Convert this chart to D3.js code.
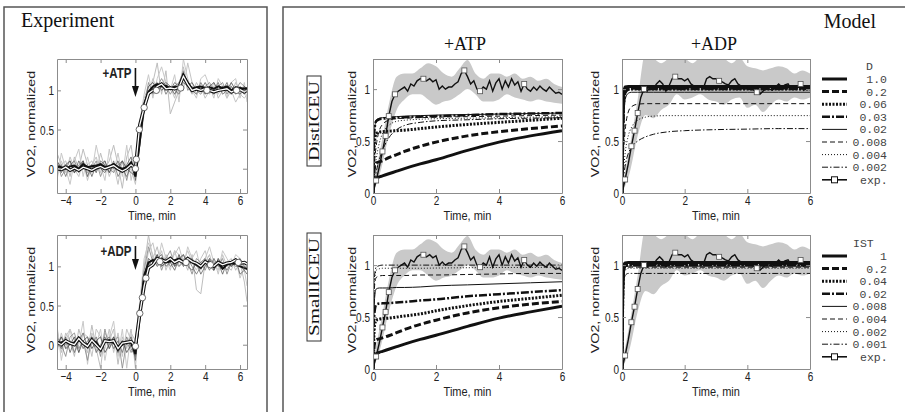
<!DOCTYPE html>
<html>
<head>
<meta charset="utf-8">
<script src="https://cdn.jsdelivr.net/npm/d3@7"></script>
<style>
body { margin: 0; background: #fff; }
svg { display: block; }
.serif { font-family: "Liberation Serif", "Times New Roman", serif; fill: #111; }
.sans { font-family: "Liberation Sans", Arial, sans-serif; fill: #222; }
.mono { font-family: "Liberation Mono", "Courier New", monospace; fill: #444; font-size: 11.5px; }
</style>
</head>
<body>
<svg id="fig" width="905" height="412"></svg>
<script>
// ---- experiment data ----
var expTime = [-4.5,-4.25,-4,-3.75,-3.5,-3.25,-3,-2.75,-2.5,-2.25,-2,-1.75,-1.5,-1.25,-1,-0.75,-0.5,-0.25,
  0,0.25,0.5,0.75,1,1.25,1.5,1.75,2,2.25,2.5,2.75,3,3.25,3.5,3.75,4,4.25,4.5,4.75,5,5.25,5.5,5.75,6,6.25,6.4];

var atpLight1 = [0.2,0.05,0.1,-0.1,0.15,0.0,0.25,0.05,0.1,-0.05, 0.2,0.0,0.1,0.3,0.05,-0.25,0.15,0.3,-0.1,0.45, 0.9,1.05,1.1,1.35,0.95,1.25,0.7,0.85,1.0,1.3, 1.05,0.95,1.1,1.0,1.05,0.95,1.1,0.9,1.0,1.05, 0.95,1.1,1.0,1.05,1.0];
var atpLight2 = [-0.1,0.1,-0.05,0.15,0.0,-0.1,0.1,-0.15,0.05,0.15, -0.05,0.1,-0.1,0.05,-0.2,0.1,-0.05,0.0,-0.2,0.3, 0.7,0.95,1.15,1.0,1.1,1.0,1.05,0.9,1.1,1.0, 1.35,1.1,0.95,1.05,0.9,1.0,1.05,0.95,1.05,0.9, 1.0,0.85,0.95,0.9,0.95];
var atpLight3 = [-0.15,0.2,0.0,-0.2,0.1,0.25,-0.1,0.15,-0.05,0.3, 0.05,-0.15,0.25,-0.05,0.2,-0.1,0.3,-0.15,0.1,0.6, 0.95,1.2,0.9,1.15,1.3,1.1,1.0,1.2,0.85,1.4, 1.15,1.0,0.9,1.15,1.2,1.05,0.9,1.15,1.05,0.9, 1.1,1.15,0.9,1.1,0.85];
var atpMid = [0.1,-0.1,0.0,0.1,-0.05,0.05,0.1,-0.05,0.0,0.1, -0.1,0.05,0.0,-0.05,0.05,0.1,-0.15,0.1,0.0,0.3, 0.8,1.1,0.95,1.05,1.15,1.05,0.95,1.05,1.1,1.25, 1.0,1.05,1.0,0.95,1.05,1.1,1.0,1.05,1.1,0.95, 1.05,1.0,1.1,1.05,0.98];
var atpDark1 = [0.05,-0.05,0.05,0.0,-0.05,0.1,0.0,0.05,-0.1,0.05, 0.0,-0.05,0.05,0.0,0.1,-0.05,0.05,0.15,-0.15,0.4, 0.85,1.0,1.05,1.1,1.0,1.05,1.0,1.1,1.05,1.2, 1.1,1.0,1.05,1.0,1.1,1.0,0.95,1.05,1.0,1.1, 0.95,1.05,1.0,0.95,1.0];
var atpDark2 = [0.0,0.05,-0.1,0.05,0.1,-0.05,0.05,0.0,0.05,-0.05, 0.1,0.05,-0.05,0.1,-0.1,0.0,-0.1,0.05,-0.05,0.35, 0.75,0.95,1.0,1.05,1.1,0.95,1.05,1.0,0.95,1.1, 1.05,1.0,0.95,1.1,1.0,1.05,1.0,1.1,0.95,1.0, 1.05,0.95,1.05,1.0,1.02];
var atpDark3 = [0.1,0.0,0.05,0.1,-0.05,0.0,0.1,-0.1,0.05,0.0, 0.05,0.1,-0.05,0.05,0.0,0.1,0.0,-0.05,-0.1,0.3, 0.8,1.05,1.1,1.0,1.05,1.1,1.05,0.95,1.05,1.15, 1.05,1.1,1.0,1.05,0.95,1.05,1.1,1.0,1.05,1.0, 1.1,1.0,0.95,1.05,1.0];
var atpMean = [0.03,0.02,0.0,0.03,0.04,0.0,0.06,0.02,0.03,0.04, 0.06,0.02,0.03,0.06,0.02,0.0,0.02,0.08,-0.1,0.35, 0.82,0.98,1.05,1.08,1.05,1.06,1.02,1.05,1.04,1.2, 1.1,1.02,1.04,1.05,1.03,1.04,1.02,1.05,1.03,1.05, 1.0,1.04,1.03,1.02,1.03];
var atpWhite = [0.0,-0.01,0.02,-0.02,0.01,-0.02,0.02,0.0,-0.02,0.01, 0.03,0.0,0.02,0.04,0.0,-0.03,0.0,0.05,0.0,0.56, 0.78,0.96,1.0,1.05,1.08,1.02,1.03,1.02,1.04,1.18, 1.08,1.0,1.02,1.0,1.02,1.0,0.98,1.0,1.01,1.02, 0.98,1.0,1.01,0.98,1.0];
var atpMarkT = [0, 0.05, 0.22, 0.5, 1.2, 2.6, 4.1, 5.8];
var atpMarkV = [0.0, 0.12, 0.5, 0.78, 1.0, 1.03, 1.0, 1.0];

var adpLight1 = [0.2,-0.1,0.15,0.05,-0.15,0.2,0.0,-0.1,0.25,-0.05, -0.3,0.15,0.05,0.2,-0.25,0.1,-0.05,0.2,-0.3,0.5, 1.0,1.4,1.1,1.25,1.0,1.15,1.05,1.2,1.0,1.1, 0.95,1.15,0.7,0.65,1.05,1.15,0.95,1.1,1.0,1.05, 1.1,0.95,1.05,0.8,0.55];
var adpLight2 = [-0.1,0.15,-0.05,0.2,0.05,-0.1,0.15,0.1,-0.15,0.2, 0.1,-0.05,0.2,-0.1,0.15,-0.15,0.2,0.05,-0.15,0.3, 0.85,1.2,1.3,1.05,1.2,0.95,1.1,1.15,1.25,1.05, 1.2,1.05,0.95,1.1,1.2,1.0,1.1,0.9,1.15,1.0, 0.95,1.1,0.85,1.0,0.95];
var adpLight3 = [0.25,-0.2,0.1,0.2,-0.1,0.0,0.3,-0.25,0.15,0.0, 0.2,-0.2,0.1,0.3,-0.15,0.2,-0.3,0.15,0.05,0.55, 1.1,1.3,1.15,1.0,1.3,1.1,0.95,1.2,1.15,1.0, 1.25,1.1,1.2,0.95,1.1,1.25,1.05,0.95,1.2,1.1, 1.0,1.15,1.1,0.95,0.75];
var adpMid = [0.1,0.0,-0.15,0.1,0.15,-0.05,0.05,-0.2,0.1,0.05, -0.15,0.2,-0.05,0.05,0.1,-0.3,0.05,-0.1,0.0,0.45, 0.95,1.25,1.05,1.15,0.95,1.1,1.2,1.0,1.05,1.15, 1.05,0.9,1.1,1.05,0.95,1.1,1.05,1.0,1.1,0.9, 1.05,1.1,1.0,1.05,1.0];
var adpDark1 = [0.05,-0.05,0.1,-0.1,0.05,0.1,-0.05,0.05,0.1,-0.1, 0.0,0.1,-0.05,0.1,-0.1,0.05,0.0,0.1,-0.2,0.4, 0.9,1.05,1.0,1.1,1.15,1.0,1.05,0.95,1.1,1.15, 1.0,0.95,1.05,0.9,1.0,1.1,0.95,1.05,0.9,1.05, 1.0,1.1,0.9,0.95,0.9];
var adpDark2 = [-0.05,0.1,0.0,0.05,-0.1,0.05,0.15,-0.05,0.0,0.1, -0.1,0.05,0.1,-0.05,0.05,-0.1,0.1,-0.05,-0.15,0.35, 0.8,1.0,1.1,1.0,1.05,1.1,1.0,1.05,1.0,1.05, 1.1,1.0,0.9,1.0,1.05,0.95,1.1,1.0,1.05,0.95, 1.05,1.0,1.0,0.95,1.0];
var adpDark3 = [0.0,0.1,-0.05,0.0,0.1,-0.1,0.05,0.1,-0.05,0.05, 0.1,-0.1,0.0,0.1,-0.05,0.05,-0.1,0.0,-0.1,0.3, 0.85,1.1,1.05,1.15,1.0,1.05,1.1,1.0,1.15,1.0, 1.05,1.1,1.0,1.05,1.1,1.0,0.95,1.1,1.0,1.05, 1.0,1.05,1.1,1.0,0.95];
var adpMean = [0.02,0.03,0.04,0.01,0.03,0.06,0.02,0.0,0.05,0.03, -0.05,0.04,0.06,0.02,-0.02,0.0,0.04,0.02,-0.12,0.4, 0.88,1.05,1.08,1.06,1.1,1.05,1.06,1.08,1.1,1.06, 1.08,1.05,1.02,0.98,1.05,1.06,1.0,1.04,0.97,1.02, 1.04,1.03,1.0,0.98,0.97];
var adpWhite = [0.03,0.0,0.05,0.02,0.0,0.08,0.02,-0.02,0.06,0.0, -0.06,0.05,0.04,0.05,-0.05,0.02,0.03,0.04,-0.02,0.4, 0.75,0.98,1.02,1.1,1.08,1.06,1.1,1.05,1.08,1.05, 1.1,1.06,1.04,1.0,1.06,1.02,1.0,1.05,1.02,1.04, 1.05,1.08,1.04,1.05,1.03];
var adpMarkT = [0, 0.25, 0.4, 0.6, 1.4, 2.9, 4.3, 5.9];
var adpMarkV = [-0.02, 0.4, 0.6, 0.85, 1.06, 1.05, 1.02, 1.05];

// ---- model data ----
var modelT = [0,0.02,0.05,0.1,0.2,0.3,0.5,0.75,1,1.5,2,3,4,5,6];

var distLabels = ["1.0","0.2","0.06","0.03","0.02","0.008","0.004","0.002"];
var atpDist = [
  [0,0.08,0.12,0.14,0.155,0.165,0.185,0.21,0.235,0.28,0.32,0.41,0.49,0.55,0.6],
  [0,0.15,0.25,0.29,0.3,0.31,0.34,0.37,0.4,0.45,0.49,0.55,0.59,0.62,0.645],
  [0,0.3,0.5,0.57,0.585,0.59,0.595,0.6,0.605,0.62,0.635,0.66,0.68,0.7,0.72],
  [0,0.4,0.62,0.69,0.71,0.715,0.72,0.725,0.73,0.735,0.74,0.75,0.76,0.765,0.77],
  [0,0.35,0.6,0.7,0.72,0.725,0.73,0.735,0.74,0.745,0.75,0.755,0.76,0.765,0.77],
  [0,0.15,0.3,0.45,0.6,0.66,0.7,0.715,0.72,0.725,0.73,0.735,0.74,0.745,0.75],
  [0,0.1,0.2,0.32,0.48,0.57,0.65,0.69,0.7,0.71,0.715,0.72,0.725,0.73,0.735],
  [0,0.05,0.12,0.2,0.32,0.41,0.53,0.61,0.65,0.68,0.695,0.705,0.715,0.72,0.725]
];
var adpDist = [
  [0,0.6,0.95,1.02,1.025,1.025,1.025,1.025,1.025,1.025,1.025,1.025,1.025,1.025,1.025],
  [0,0.5,0.9,1.0,1.01,1.01,1.01,1.01,1.01,1.01,1.01,1.01,1.01,1.01,1.01],
  [0,0.45,0.85,0.98,1.0,1.0,1.0,1.0,1.0,1.0,1.0,1.0,1.0,1.0,1.0],
  [0,0.4,0.8,0.96,0.995,1.0,1.0,1.0,1.0,1.0,1.0,1.0,1.0,1.0,1.0],
  [0,0.35,0.7,0.9,0.96,0.97,0.97,0.97,0.97,0.97,0.97,0.97,0.97,0.97,0.97],
  [0,0.2,0.4,0.6,0.78,0.83,0.855,0.86,0.86,0.86,0.86,0.86,0.86,0.86,0.86],
  [0,0.1,0.22,0.38,0.55,0.63,0.7,0.73,0.74,0.745,0.745,0.745,0.745,0.745,0.745],
  [0,0.07,0.15,0.26,0.38,0.44,0.5,0.54,0.565,0.59,0.6,0.61,0.615,0.62,0.62]
];

var istLabels = ["1","0.2","0.04","0.02","0.008","0.004","0.002","0.001"];
var atpSmall = [
  [0,0.08,0.12,0.145,0.16,0.17,0.19,0.215,0.24,0.285,0.325,0.41,0.49,0.55,0.605],
  [0,0.15,0.25,0.28,0.29,0.3,0.32,0.35,0.38,0.43,0.47,0.54,0.59,0.625,0.65],
  [0,0.25,0.42,0.47,0.48,0.485,0.49,0.5,0.51,0.53,0.56,0.61,0.65,0.68,0.71],
  [0,0.35,0.55,0.62,0.63,0.632,0.635,0.64,0.645,0.66,0.67,0.7,0.72,0.74,0.76],
  [0,0.4,0.68,0.77,0.78,0.78,0.78,0.785,0.785,0.79,0.8,0.81,0.82,0.83,0.84],
  [0,0.45,0.8,0.88,0.895,0.9,0.9,0.9,0.9,0.905,0.905,0.91,0.915,0.92,0.92],
  [0,0.5,0.85,0.95,0.965,0.97,0.97,0.97,0.97,0.97,0.972,0.975,0.977,0.978,0.98],
  [0,0.55,0.9,0.98,0.995,1.0,1.0,1.0,1.0,1.0,1.0,1.0,1.0,1.0,1.0]
];
var adpSmall = [
  [0,0.7,0.98,1.02,1.025,1.025,1.025,1.025,1.025,1.025,1.025,1.025,1.025,1.025,1.025],
  [0,0.65,0.96,1.01,1.015,1.015,1.015,1.015,1.015,1.015,1.015,1.015,1.015,1.015,1.015],
  [0,0.6,0.94,1.0,1.005,1.005,1.005,1.005,1.005,1.005,1.005,1.005,1.005,1.005,1.005],
  [0,0.6,0.93,0.99,1.0,1.0,1.0,1.0,1.0,1.0,1.0,1.0,1.0,1.0,1.0],
  [0,0.55,0.9,0.98,0.99,0.99,0.99,0.99,0.99,0.99,0.99,0.99,0.99,0.99,0.99],
  [0,0.55,0.88,0.97,0.98,0.98,0.98,0.98,0.98,0.98,0.98,0.98,0.98,0.98,0.98],
  [0,0.5,0.85,0.95,0.97,0.97,0.97,0.97,0.97,0.97,0.97,0.97,0.97,0.97,0.97],
  [0,0.45,0.8,0.9,0.92,0.92,0.92,0.92,0.92,0.92,0.92,0.92,0.92,0.92,0.92]
];

// experimental curve shown in the model panels
var mExpT = [0,0.1,0.2,0.3,0.4,0.5,0.6,0.7,0.8,0.9,1,1.1,1.2,1.3,1.4,1.5,1.6,1.7,1.8,1.9,2,2.1,2.2,2.3,2.4,2.5,2.6,2.7,2.8,2.9,
  3,3.1,3.2,3.3,3.4,3.5,3.6,3.7,3.8,3.9,4,4.1,4.2,4.3,4.4,4.5,4.6,4.7,4.8,4.9,5,5.1,5.2,5.3,5.4,5.5,5.6,5.7,5.8,5.9,6];
var mExpAtp = [0,0.12,0.25,0.4,0.55,0.74,0.88,0.95,0.98,1.0, 1.02,0.98,1.05,1.03,1.08,1.1,1.1,1.08,1.1,1.07, 1.09,1.0,1.03,1.0,1.02,1.02,1.05,1.07,1.15,1.18,
  1.12,1.05,1.08,1.0,0.98,1.02,1.0,1.08,0.98,1.06, 1.1,1.0,1.08,1.02,1.1,1.04,1.07,0.98,1.05,1.0, 0.98,1.02,0.99,1.03,1.0,0.98,1.02,0.99,0.96,0.97,0.95];
var mExpAdp = [0,0.13,0.28,0.45,0.6,0.77,0.92,1.0,0.98,1.02, 1.0,1.05,1.08,1.05,0.98,1.03,1.1,1.12,1.1,1.1, 1.08,1.1,1.05,1.03,1.02,1.02,1.01,1.1,1.12,1.1,
  1.1,1.08,1.07,1.05,1.04,1.08,1.1,1.05,1.03,1.02, 1.02,1.0,0.99,0.97,0.95,0.98,1.01,1.0,0.99,1.02, 1.05,1.02,1.04,1.05,1.0,1.03,1.02,1.05,0.99,1.03,1.0];
var sqAtpT = [0.1,0.3,0.4,0.5,0.7,1.6,2.9,3.4,4.8];
var sqAdpT = [0.1,0.3,0.4,0.5,0.7,1.7,3.1,4.3,5.7];

var bandT = [0,0.25,0.5,0.75,1,1.25,1.5,1.75,2,2.25,2.5,2.75,3,3.25,3.5,3.75,4,4.25,4.5,4.75,5,5.25,5.5,5.75,6];
var bandAtpLow = [0,0.22,0.55,0.8,0.9,0.95,0.95,0.9,0.85,0.88,0.9,0.95,1.0,0.95,0.88,0.88,0.9,0.95,0.92,0.9,0.88,0.9,0.88,0.87,0.86];
var bandAtpHigh = [0.08,0.45,0.85,1.12,1.15,1.15,1.2,1.25,1.22,1.15,1.12,1.2,1.28,1.15,1.1,1.15,1.15,1.12,1.15,1.1,1.12,1.08,1.1,1.05,1.02];
var bandAdpLow = [0,0.2,0.55,0.75,0.72,0.8,0.85,0.95,0.9,0.92,0.95,0.9,0.88,0.85,0.9,0.92,0.82,0.85,0.78,0.85,0.9,0.88,0.92,0.9,0.92];
var bandAdpHigh = [0.05,0.45,0.9,1.35,1.3,1.25,1.3,1.35,1.3,1.25,1.3,1.28,1.35,1.3,1.25,1.3,1.22,1.2,1.18,1.2,1.22,1.2,1.15,1.18,1.15];

// line styles for the eight model curves (thick solid, dashed, dotted, dash-dot, then thin)
var curveStyles = [
  { w: 3, dash: null }, { w: 3, dash: "7,3" }, { w: 3, dash: "2,1.5" }, { w: 2.5, dash: "8,2,2,2" },
  { w: 1, dash: null }, { w: 1, dash: "5,3" }, { w: 1, dash: "1,2" }, { w: 1, dash: "6,2,1.5,2" }
];

var STRETCH = 1.3;
var svg = d3.select("#fig");
var clipId = 0;

function minusFmt(d) { return d < 0 ? "\u2212" + (-d) : String(d); }

// frames
svg.append("path").attr("d", "M4,412 V7 H267 V412").attr("fill", "none").attr("stroke", "#555").attr("stroke-width", 1.5);
svg.append("path").attr("d", "M283,412 V7 H905").attr("fill", "none").attr("stroke", "#555").attr("stroke-width", 1.5);

svg.append("text").attr("class", "serif").attr("x", 21).attr("y", 27).attr("font-size", 20).text("Experiment");
svg.append("text").attr("class", "serif").attr("x", 876).attr("y", 28).attr("text-anchor", "end").attr("font-size", 20).text("Model");

function makeAxes(box, xDomain, yDomain, xTicks, yTicks, ylabelX) {
  var x = d3.scaleLinear().domain(xDomain).range([box.x0, box.x1]);
  var y = d3.scaleLinear().domain(yDomain).range([box.y1, box.y0]);
  var g = svg.append("g");
  var id = "clip" + (clipId++);
  g.append("clipPath").attr("id", id).append("rect")
    .attr("x", box.x0).attr("y", box.y0).attr("width", box.x1 - box.x0).attr("height", box.y1 - box.y0);
  var plot = g.append("g").attr("clip-path", "url(#" + id + ")");
  var axes = g.append("g");
  return { x: x, y: y, g: g, plot: plot, axes: axes, box: box, xTicks: xTicks, yTicks: yTicks, ylabelX: ylabelX };
}

function finishAxes(p, xlabel) {
  var b = p.box, a = p.axes;
  var bottom = a.append("g").attr("transform", "translate(0," + b.y1 + ")")
    .call(d3.axisBottom(p.x).tickValues(p.xTicks).tickSize(-4).tickSizeOuter(0).tickFormat(minusFmt));
  a.append("g").attr("transform", "translate(0," + b.y0 + ")")
    .call(d3.axisTop(p.x).tickValues(p.xTicks).tickSize(-4).tickSizeOuter(0).tickFormat(""));
  var left = a.append("g").attr("transform", "translate(" + b.x0 + ",0)")
    .call(d3.axisLeft(p.y).tickValues(p.yTicks).tickSize(-4).tickSizeOuter(0).tickFormat(String));
  a.append("g").attr("transform", "translate(" + b.x1 + ",0)")
    .call(d3.axisRight(p.y).tickValues(p.yTicks).tickSize(-4).tickSizeOuter(0).tickFormat(""));
  a.selectAll(".domain, .tick line").attr("stroke", "#8c8c8c");
  a.selectAll("text").attr("font-family", "Liberation Sans, Arial, sans-serif").attr("font-size", 10).attr("fill", "#222");
  a.selectAll("g").attr("font-family", null).attr("font-size", null);
  bottom.selectAll(".tick text").attr("y", null).attr("dy", null).attr("transform", "translate(0,12) scale(1," + STRETCH + ")");
  left.selectAll(".tick text").attr("x", null).attr("dy", null).attr("transform", "translate(-3,4.5) scale(1," + STRETCH + ")");

  var cx = (b.x0 + b.x1) / 2, cy = (b.y0 + b.y1) / 2;
  if (xlabel) {
    a.append("text").attr("class", "sans").attr("font-size", 11).attr("text-anchor", "middle")
      .attr("transform", "translate(" + cx + "," + (b.y1 + 27) + ") scale(1,1.15)").text("Time, min");
  }
  a.append("text").attr("class", "sans").attr("font-size", 11).attr("text-anchor", "middle")
    .attr("transform", "translate(" + p.ylabelX + "," + (cy - 2) + ") scale(1," + STRETCH + ") rotate(-90)").text("VO2, normalized");
}

function drawExperiment(box, traces, meanVals, whiteVals, markT, markV, label, arrowTop, arrowBottom) {
  var p = makeAxes(box, [-4.5, 6.4], [-0.31, 1.4], [-4, -2, 0, 2, 4, 6], [0, 0.5, 1], 35);
  var line = d3.line().x(function (d, i) { return p.x(expTime[i]); }).y(function (d) { return p.y(d); });
  traces.forEach(function (tr) {
    p.plot.append("path").attr("d", line(tr.v)).attr("fill", "none").attr("stroke", tr.c).attr("stroke-width", tr.w);
  });
  p.plot.append("path").attr("d", line(meanVals)).attr("fill", "none").attr("stroke", "#111").attr("stroke-width", 2);
  p.plot.append("path").attr("d", line(whiteVals)).attr("fill", "none").attr("stroke", "#111").attr("stroke-width", 3.4);
  p.plot.append("path").attr("d", line(whiteVals)).attr("fill", "none").attr("stroke", "#fff").attr("stroke-width", 1.3);
  p.plot.selectAll("circle.mk").data(markT).enter().append("circle")
    .attr("cx", function (d) { return p.x(d); }).attr("cy", function (d, i) { return p.y(markV[i]); })
    .attr("r", 3.2).attr("fill", "#fff").attr("stroke", "#444").attr("stroke-width", 0.8);
  finishAxes(p, true);
  // arrow at t = 0
  var ax = p.x(0);
  p.g.append("line").attr("x1", ax).attr("x2", ax).attr("y1", arrowTop).attr("y2", arrowBottom - 8)
    .attr("stroke", "#111").attr("stroke-width", 1.6);
  p.g.append("path").attr("d", "M" + (ax - 3.5) + "," + (arrowBottom - 11) + " L" + (ax + 3.5) + "," + (arrowBottom - 11) + " L" + ax + "," + arrowBottom + " Z")
    .attr("fill", "#111");
  p.g.append("text").attr("class", "sans").attr("font-size", 11.5).attr("font-weight", "bold").attr("text-anchor", "end")
    .attr("fill", "#111")
    .attr("transform", "translate(" + (ax - 4) + "," + (arrowTop + 10) + ") scale(1," + STRETCH + ")").text(label);
}

function drawModel(box, bandLow, bandHigh, expVals, sqT, curves, xlabel, ylabelX) {
  var p = makeAxes(box, [0, 6], [0, 1.29], [0, 2, 4, 6], [0, 0.5, 1], ylabelX);
  var area = d3.area().x(function (d, i) { return p.x(bandT[i]); })
    .y0(function (d, i) { return p.y(bandLow[i]); }).y1(function (d) { return p.y(d); })
    .curve(d3.curveMonotoneX);
  p.plot.append("path").attr("d", area(bandHigh)).attr("fill", "#c9c9c9");
  var eLine = d3.line().x(function (d, i) { return p.x(mExpT[i]); }).y(function (d) { return p.y(d); });
  p.plot.append("path").attr("d", eLine(expVals)).attr("fill", "none").attr("stroke", "#111").attr("stroke-width", 1.4);
  var cLine = d3.line().x(function (d, i) { return p.x(modelT[i]); }).y(function (d) { return p.y(d); }).curve(d3.curveMonotoneX);
  curves.forEach(function (c, k) {
    var st = curveStyles[k];
    p.plot.append("path").attr("d", cLine(c)).attr("fill", "none").attr("stroke", "#111")
      .attr("stroke-width", st.w).attr("stroke-dasharray", st.dash);
  });
  p.plot.selectAll("rect.sq").data(sqT).enter().append("rect")
    .attr("x", function (d) { return p.x(d) - 2.5; })
    .attr("y", function (d) { return p.y(expVals[mExpT.indexOf(d)]) - 2.5; })
    .attr("width", 5).attr("height", 5).attr("fill", "#fff").attr("stroke", "#555").attr("stroke-width", 0.8);
  finishAxes(p, xlabel);
  return p;
}

function drawLegend(header, headerX, labels, yTop) {
  var g = svg.append("g");
  var rowY = function (i) { return yTop + 12.6 * i; };
  g.append("text").attr("class", "mono").attr("x", headerX).attr("y", rowY(-1) + 4).text(header);
  labels.forEach(function (lab, i) {
    var st = curveStyles[i];
    g.append("line").attr("x1", 822).attr("x2", 847).attr("y1", rowY(i)).attr("y2", rowY(i))
      .attr("stroke", "#111").attr("stroke-width", st.w).attr("stroke-dasharray", st.dash);
    g.append("text").attr("class", "mono").attr("x", 887).attr("y", rowY(i) + 4).attr("text-anchor", "end").text(lab);
  });
  var ey = rowY(labels.length);
  g.append("line").attr("x1", 822).attr("x2", 847).attr("y1", ey).attr("y2", ey).attr("stroke", "#111").attr("stroke-width", 1.6);
  g.append("rect").attr("x", 831.5).attr("y", ey - 3).attr("width", 6).attr("height", 6).attr("fill", "#fff").attr("stroke", "#111").attr("stroke-width", 1);
  g.append("text").attr("class", "mono").attr("x", 860).attr("y", ey + 4).text("exp.");
}

// ---- left: experiment ----
drawExperiment({ x0: 57, x1: 247, y0: 59, y1: 193 }, [
  { v: atpLight1, c: "#bdbdbd", w: 1 }, { v: atpLight2, c: "#c4c4c4", w: 1 }, { v: atpLight3, c: "#c8c8c8", w: 1 },
  { v: atpMid, c: "#8e8e8e", w: 0.9 }, { v: atpDark1, c: "#5e5e5e", w: 0.8 }, { v: atpDark2, c: "#6e6e6e", w: 0.8 },
  { v: atpDark3, c: "#4e4e4e", w: 0.8 }
], atpMean, atpWhite, atpMarkT, atpMarkV, "+ATP", 68, 97);

drawExperiment({ x0: 57, x1: 247, y0: 235, y1: 369 }, [
  { v: adpLight1, c: "#bdbdbd", w: 1 }, { v: adpLight2, c: "#c4c4c4", w: 1 }, { v: adpLight3, c: "#c8c8c8", w: 1 },
  { v: adpMid, c: "#8e8e8e", w: 0.9 }, { v: adpDark1, c: "#5e5e5e", w: 0.8 }, { v: adpDark2, c: "#6e6e6e", w: 0.8 },
  { v: adpDark3, c: "#4e4e4e", w: 0.8 }
], adpMean, adpWhite, adpMarkT, adpMarkV, "+ADP", 246, 270);

// ---- right: model ----
drawModel({ x0: 373, x1: 562, y0: 59, y1: 193 }, bandAtpLow, bandAtpHigh, mExpAtp, sqAtpT, atpDist, true, 356);
drawModel({ x0: 622, x1: 810, y0: 59, y1: 193 }, bandAdpLow, bandAdpHigh, mExpAdp, sqAdpT, adpDist, true, 599);
drawModel({ x0: 373, x1: 562, y0: 235, y1: 369 }, bandAtpLow, bandAtpHigh, mExpAtp, sqAtpT, atpSmall, true, 356);
drawModel({ x0: 622, x1: 810, y0: 235, y1: 369 }, bandAdpLow, bandAdpHigh, mExpAdp, sqAdpT, adpSmall, true, 599);

svg.append("text").attr("class", "serif").attr("x", 465).attr("y", 50).attr("text-anchor", "middle").attr("font-size", 18).text("+ATP");
svg.append("text").attr("class", "serif").attr("x", 714).attr("y", 50).attr("text-anchor", "middle").attr("font-size", 18).text("+ADP");

drawLegend("D", 866, distLabels, 79);
drawLegend("IST", 853, istLabels, 256);

// row labels in boxes
function rowLabel(text, cy, len) {
  svg.append("rect").attr("x", 307).attr("y", cy - len / 2 - 5).attr("width", 14).attr("height", len + 10)
    .attr("fill", "none").attr("stroke", "#333").attr("stroke-width", 1);
  svg.append("text").attr("class", "serif").attr("font-size", 14.5).attr("text-anchor", "middle")
    .attr("textLength", len).attr("lengthAdjust", "spacingAndGlyphs")
    .attr("transform", "translate(319," + cy + ") rotate(-90)").text(text);
}
rowLabel("DistICEU", 121, 80);
rowLabel("SmallICEU", 287, 98);
</script>
</body>
</html>
